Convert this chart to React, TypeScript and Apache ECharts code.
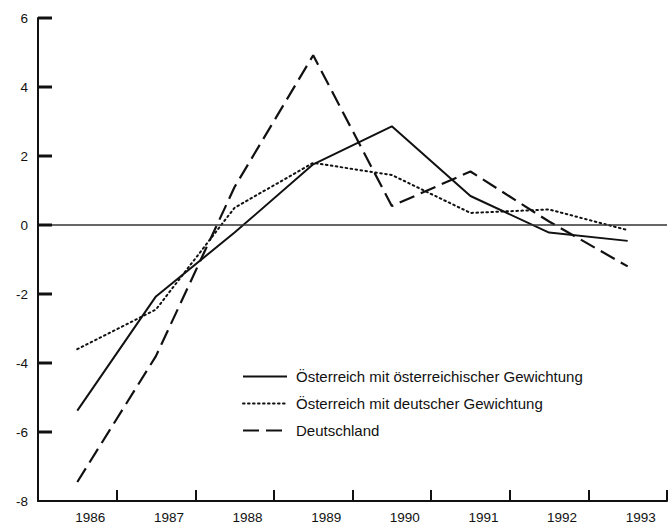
import React, { useEffect, useRef } from "react";
import * as echarts from "echarts";

const years = ["1986", "1987", "1988", "1989", "1990", "1991", "1992", "1993"];
const oesterreichOe = [-5.38, -2.07, -0.22, 1.76, 2.86, 0.84, -0.22, -0.46];
const oesterreichDe = [-3.6, -2.45, 0.5, 1.8, 1.45, 0.35, 0.45, -0.15];
const deutschland = [-7.45, -3.8, 1.1, 4.92, 0.55, 1.55, 0.1, -1.2];
const yTickValues = [-6, -4, -2, 0, 2, 4, 6];
const seriesNames = [
  "Österreich mit österreichischer Gewichtung",
  "Österreich mit deutscher Gewichtung",
  "Deutschland",
];

const FONT = "'Liberation Sans', Arial, Helvetica, sans-serif";
const INK = "#111";

export default function App() {
  const ref = useRef<HTMLDivElement>(null);
  useEffect(() => {
    document.body.style.margin = "0";
    const chart = echarts.init(ref.current!, undefined, { renderer: "svg" });
    chart.setOption({
      animation: false,
      backgroundColor: "#ffffff",
      grid: { left: 38, right: 2, top: 18, bottom: 26, containLabel: false },
      legend: {
        orient: "vertical",
        left: 237,
        top: 364,
        itemWidth: 44,
        itemHeight: 14,
        itemGap: 12,
        data: seriesNames,
        itemStyle: { opacity: 0 },
        textStyle: { fontFamily: FONT, fontSize: 15, color: INK, padding: [0, 0, 0, 4] },
      },
      xAxis: {
        type: "category",
        data: years,
        boundaryGap: true,
        axisLine: { onZero: false, lineStyle: { color: INK, width: 2 } },
        axisTick: { show: true, inside: true, length: 11, alignWithLabel: false, lineStyle: { color: INK, width: 2 } },
        axisLabel: {
          fontFamily: FONT,
          fontSize: 13.5,
          color: INK,
          margin: 9,
          padding: [0, 0, 0, 26],
        },
        splitLine: { show: false },
      },
      yAxis: {
        type: "value",
        min: -8,
        max: 6,
        interval: 2,
        position: "left",
        axisLine: { show: true, onZero: false, lineStyle: { color: INK, width: 2 } },
        axisTick: { show: true, inside: true, length: 13, lineStyle: { color: INK, width: 2 } },
        axisLabel: { fontFamily: FONT, fontSize: 13.5, color: INK, margin: 10 },
        splitLine: { show: false },
      },
      series: [
        {
          name: seriesNames[0],
          type: "line",
          data: oesterreichOe,
          symbol: "none",
          lineStyle: { color: INK, width: 2, type: "solid" },
          itemStyle: { color: INK },
          markLine: {
            silent: true,
            symbol: "none",
            label: { show: false },
            lineStyle: { color: "#333", width: 1.5, type: "solid" },
            data: [{ yAxis: 0 }],
          },
          z: 3,
        },
        {
          name: seriesNames[1],
          type: "line",
          data: oesterreichDe,
          symbol: "none",
          lineStyle: { color: INK, width: 2, type: [1.6, 3.4], cap: "round" },
          itemStyle: { color: INK },
          z: 2,
        },
        {
          name: seriesNames[2],
          type: "line",
          data: deutschland,
          symbol: "none",
          lineStyle: { color: INK, width: 2.2, type: [16, 7] },
          itemStyle: { color: INK },
          z: 2,
        },
        {
          name: "yTicks",
          type: "custom",
          silent: true,
          clip: false,
          data: yTickValues.map((v) => [0, v]),
          renderItem: (params: any, api: any) => {
            const p = api.coord([0, api.value(1)]);
            const x0 = params.coordSys.x;
            return {
              type: "rect",
              shape: { x: x0, y: p[1] - 1.5, width: 14, height: 3 },
              style: { fill: INK },
            };
          },
          z: 10,
        },
      ],
    });
    return () => chart.dispose();
  }, []);
  return (
    <div
      ref={ref}
      style={{ position: "fixed", left: 0, top: 0, width: 669, height: 527 }}
    />
  );
}
